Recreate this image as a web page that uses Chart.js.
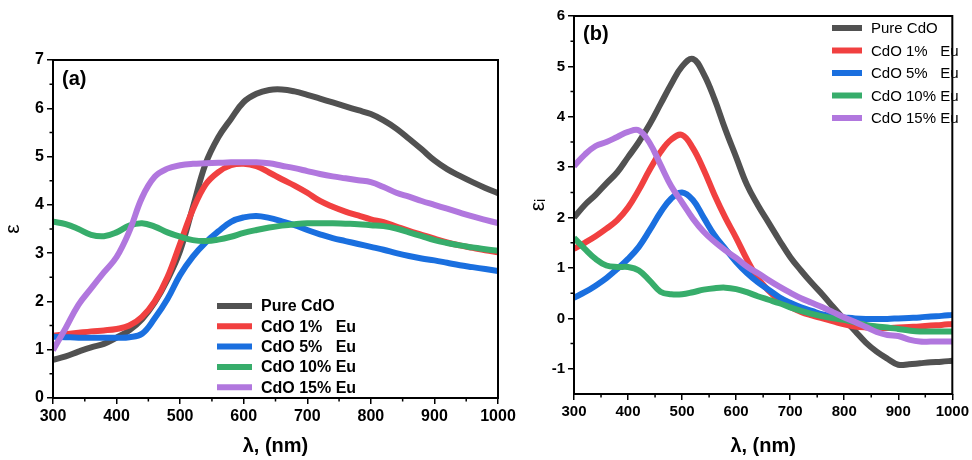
<!DOCTYPE html>
<html>
<head>
<meta charset="utf-8">
<script src="https://cdn.jsdelivr.net/npm/chart.js@4.4.0/dist/chart.umd.min.js"></script>
<style>
html, body { margin: 0; padding: 0; background: #fff; }
#wrap { position: relative; width: 972px; height: 460px; overflow: hidden; }
canvas { position: absolute; top: 0; }
</style>
</head>
<body>
<div id="wrap">
  <canvas id="chartA" width="520" height="460" style="left:0"></canvas>
  <canvas id="chartB" width="452" height="460" style="left:520px"></canvas>
</div>
<script>
// wavelength grid (nm), shared by both panels
const wavelengths = [300, 320, 340, 360, 380, 400, 420, 440, 460, 480, 500, 520, 540, 560, 580, 600, 620, 640,
                     660, 680, 700, 720, 740, 760, 780, 800, 820, 840, 860, 880, 900, 920, 940, 960, 980, 1000];

const seriesLabels = ['Pure CdO', 'CdO 1%   Eu', 'CdO 5%   Eu', 'CdO 10% Eu', 'CdO 15% Eu'];

// panel (a): real part ε
const epsPure = [0.79, 0.86, 0.96, 1.05, 1.12, 1.25, 1.40, 1.63, 1.98, 2.45, 3.05, 3.95, 4.85, 5.40, 5.78, 6.13, 6.30, 6.38,
                 6.39, 6.35, 6.28, 6.20, 6.12, 6.04, 5.96, 5.88, 5.75, 5.58, 5.37, 5.15, 4.92, 4.74, 4.60, 4.47, 4.35, 4.24];
const eps1 = [1.29, 1.32, 1.35, 1.38, 1.40, 1.43, 1.50, 1.68, 2.00, 2.50, 3.20, 3.90, 4.42, 4.68, 4.82, 4.85, 4.80, 4.67,
              4.53, 4.40, 4.25, 4.08, 3.96, 3.86, 3.78, 3.70, 3.64, 3.55, 3.46, 3.38, 3.30, 3.22, 3.16, 3.11, 3.06, 3.02];
const eps5 = [1.27, 1.26, 1.25, 1.25, 1.25, 1.25, 1.26, 1.33, 1.65, 2.05, 2.55, 2.93, 3.22, 3.45, 3.65, 3.74, 3.77, 3.73,
              3.66, 3.58, 3.48, 3.39, 3.31, 3.25, 3.19, 3.13, 3.07, 3.00, 2.94, 2.89, 2.85, 2.80, 2.75, 2.71, 2.67, 2.63];
const eps10 = [3.65, 3.60, 3.50, 3.38, 3.35, 3.43, 3.57, 3.62, 3.55, 3.43, 3.34, 3.27, 3.25, 3.28, 3.34, 3.42, 3.48, 3.53,
               3.57, 3.60, 3.62, 3.62, 3.62, 3.61, 3.60, 3.58, 3.56, 3.51, 3.43, 3.35, 3.27, 3.21, 3.16, 3.12, 3.08, 3.05];
const eps15 = [0.99, 1.45, 1.93, 2.27, 2.60, 2.92, 3.45, 4.15, 4.58, 4.75, 4.82, 4.85, 4.86, 4.87, 4.88, 4.88, 4.88, 4.86,
               4.81, 4.76, 4.70, 4.64, 4.59, 4.55, 4.51, 4.47, 4.37, 4.25, 4.17, 4.08, 4.00, 3.92, 3.84, 3.76, 3.69, 3.62];

// panel (b): imaginary part εi
const epsiPure = [2.00, 2.25, 2.45, 2.68, 2.90, 3.20, 3.50, 3.85, 4.25, 4.65, 5.00, 5.15, 4.85, 4.35, 3.75, 3.20, 2.65, 2.25,
                  1.90, 1.55, 1.22, 0.95, 0.70, 0.47, 0.22, -0.02, -0.25, -0.48, -0.66, -0.80, -0.92, -0.91, -0.89, -0.87, -0.86, -0.84];
const epsi1 = [1.38, 1.50, 1.63, 1.78, 1.95, 2.20, 2.55, 2.95, 3.30, 3.55, 3.64, 3.38, 2.95, 2.45, 2.00, 1.60, 1.17, 0.80,
               0.55, 0.36, 0.23, 0.13, 0.06, 0.00, -0.06, -0.12, -0.16, -0.18, -0.19, -0.19, -0.18, -0.17, -0.16, -0.14, -0.13, -0.11];
const epsi5 = [0.41, 0.52, 0.65, 0.80, 0.98, 1.18, 1.42, 1.75, 2.10, 2.38, 2.50, 2.35, 2.00, 1.65, 1.38, 1.12, 0.90, 0.72,
               0.57, 0.42, 0.31, 0.22, 0.15, 0.08, 0.04, 0.02, 0.00, -0.01, -0.01, -0.01, 0.00, 0.01, 0.02, 0.04, 0.05, 0.07];
const epsi10 = [1.60, 1.38, 1.18, 1.05, 1.02, 1.02, 0.95, 0.75, 0.53, 0.48, 0.48, 0.52, 0.57, 0.60, 0.61, 0.58, 0.52, 0.44,
                0.37, 0.30, 0.22, 0.15, 0.09, 0.04, 0.00, -0.03, -0.08, -0.13, -0.16, -0.18, -0.21, -0.24, -0.26, -0.26, -0.26, -0.26];
const epsi15 = [3.02, 3.25, 3.42, 3.50, 3.60, 3.70, 3.73, 3.48, 3.05, 2.62, 2.30, 1.98, 1.72, 1.52, 1.35, 1.20, 1.03, 0.90,
                0.76, 0.63, 0.51, 0.40, 0.31, 0.22, 0.12, 0.02, -0.07, -0.17, -0.27, -0.33, -0.35, -0.42, -0.46, -0.46, -0.46, -0.46];

const colors = ['#515151', '#F14040', '#1A6FDF', '#37AD6B', '#B177DE'];

function makeDatasets(seriesList) {
  return seriesList.map((vals, i) => ({
    label: seriesLabels[i],
    data: wavelengths.map((w, k) => ({ x: w, y: vals[k] })),
    borderColor: colors[i],
    backgroundColor: colors[i],
    borderWidth: 6,
    pointRadius: 0,
    fill: false,
    tension: 0.4,
    borderJoinStyle: 'round',
    order: seriesList.length - i   // last series on top, like the original
  }));
}

// frame, minor ticks, panel letter and an in-plot legend
const extras = {
  id: 'extras',
  afterDatasetsDraw(chart, args, opts) {
    const { ctx, chartArea: a, scales } = chart;
    ctx.save();
    ctx.strokeStyle = '#000';
    ctx.lineWidth = 2;
    ctx.strokeRect(a.left, a.top, a.right - a.left, a.bottom - a.top);

    ctx.lineWidth = 1.5;
    ctx.beginPath();
    for (const [s, horiz] of [[scales.x, true], [scales.y, false]]) {
      const half = s.options.ticks.stepSize / 2;
      for (let v = Math.ceil(s.min / half) * half; v <= s.max + 1e-9; v += half) {
        const onMajor = Math.abs(v / (half * 2) - Math.round(v / (half * 2))) < 1e-6;
        if (onMajor || Math.abs(v - s.min) < 1e-6 || Math.abs(v - s.max) < 1e-6) continue;
        const p = s.getPixelForValue(v);
        if (horiz) { ctx.moveTo(p, a.bottom); ctx.lineTo(p, a.bottom + 3.5); }
        else { ctx.moveTo(a.left, p); ctx.lineTo(a.left - 3.5, p); }
      }
    }
    ctx.stroke();

    ctx.fillStyle = '#000';
    ctx.textBaseline = 'middle';
    ctx.textAlign = 'left';
    ctx.font = 'bold 20px Arial, "Liberation Sans"';
    ctx.fillText(opts.panel, opts.panelX, opts.panelY);

    const lg = opts.legend;
    ctx.font = lg.font;
    chart.data.datasets.forEach((ds, i) => {
      const y = lg.y + i * lg.dy;
      ctx.strokeStyle = ds.borderColor;
      ctx.lineWidth = 6;
      ctx.lineCap = 'butt';
      ctx.beginPath();
      ctx.moveTo(lg.x, y);
      ctx.lineTo(lg.x + lg.len, y);
      ctx.stroke();
      ctx.fillStyle = '#000';
      ctx.fillText(ds.label, lg.x + lg.len + lg.gap, y + 1);
    });
    ctx.restore();
  }
};

function makeOptions(cfg) {
  return {
    responsive: false,
    animation: false,
    devicePixelRatio: 1,
    layout: { padding: cfg.padding },
    plugins: {
      legend: { display: false },
      tooltip: { enabled: false },
      extras: cfg.extras
    },
    scales: {
      x: {
        type: 'linear',
        min: 300,
        max: 1000,
        afterFit: s => { s.height = cfg.xHeight; },
        border: { display: false },
        grid: { drawOnChartArea: false, drawTicks: true, tickLength: 6, color: '#000', lineWidth: 1.5 },
        ticks: { stepSize: 100, autoSkip: false, maxRotation: 0, padding: 3, color: '#000',
                 font: { family: 'Arial, "Liberation Sans"', size: cfg.tickSize, weight: 'bold' },
                 callback: v => String(v) },
        title: { display: true, text: 'λ, (nm)', color: '#000', padding: { top: 0, bottom: 2 },
                 font: { family: 'Arial, "Liberation Sans"', size: 20, weight: 'bold' } }
      },
      y: {
        min: cfg.yMin,
        max: cfg.yMax,
        afterFit: s => { s.width = cfg.yWidth; },
        border: { display: false },
        grid: { drawOnChartArea: false, drawTicks: true, tickLength: 6, lineWidth: 1.5,
                color: c => Number.isInteger(c.tick.value) ? '#000' : 'rgba(0,0,0,0)' },
        ticks: { stepSize: 1, autoSkip: false, padding: 3, color: '#000',
                 font: { family: 'Arial, "Liberation Sans"', size: cfg.tickSize, weight: 'bold' },
                 callback: v => Number.isInteger(v) ? String(v) : '' },
        title: { display: true, text: cfg.yTitle, color: '#000', padding: { top: cfg.yTitlePad, bottom: 0 },
                 font: { family: 'Arial, "Liberation Sans"', size: 21 } }
      }
    }
  };
}

new Chart(document.getElementById('chartA'), {
  type: 'line',
  data: { datasets: makeDatasets([epsPure, eps1, eps5, eps10, eps15]) },
  options: makeOptions({
    padding: { left: 0, top: 60, right: 22, bottom: 0 },
    xHeight: 62, yWidth: 53, yMin: 0, yMax: 7, yTitle: 'ε', yTitlePad: 1,
    tickSize: 16,
    extras: {
      panel: '(a)', panelX: 62, panelY: 79,
      legend: { x: 217, y: 306, dy: 20.3, len: 35, gap: 9, font: 'bold 16px Arial, "Liberation Sans"' }
    }
  }),
  plugins: [extras]
});

new Chart(document.getElementById('chartB'), {
  type: 'line',
  data: { datasets: makeDatasets([epsiPure, epsi1, epsi5, epsi10, epsi15]) },
  options: makeOptions({
    padding: { left: 0, top: 16, right: 18, bottom: 0 },
    xHeight: 66, yWidth: 54, yMin: -1.5, yMax: 6, yTitle: 'εᵢ', yTitlePad: 6,
    tickSize: 15,
    extras: {
      panel: '(b)', panelX: 63, panelY: 34,
      legend: { x: 312, y: 28, dy: 22.5, len: 30, gap: 9, font: '15px Arial, "Liberation Sans"' }
    }
  }),
  plugins: [extras]
});
</script>
</body>
</html>
